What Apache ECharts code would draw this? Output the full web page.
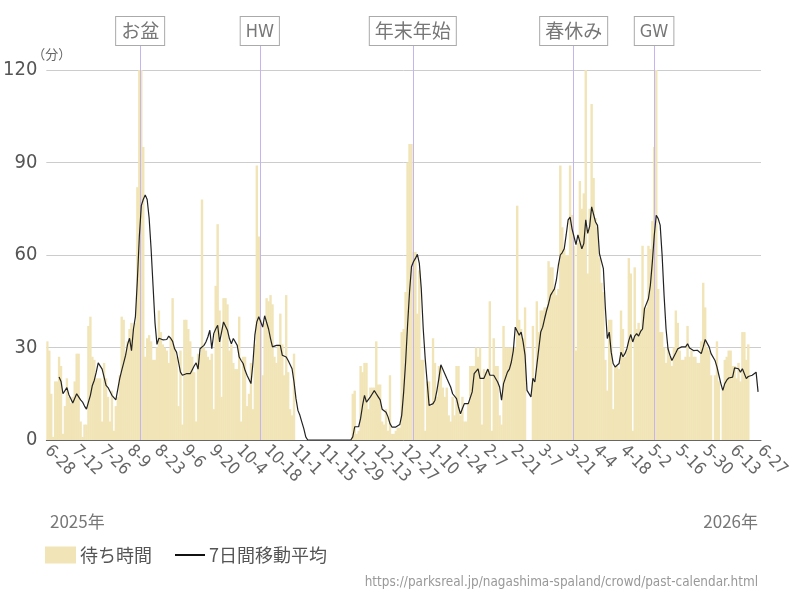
<!DOCTYPE html>
<html style='height: 100%'>
<head>
    <meta charset='utf-8'>
    <script src="https://cdn.jsdelivr.net/npm/echarts@6/dist/echarts.min.js"></script>
</head>
<body style='height: 100%; margin: 0; background: #fff'>
<div id='container' style='width: 800px; height: 600px'></div>
<script type="text/javascript">
// 待ち時間（分）: 2025-06-28 から 365日分, null = 休業
var waitTimes = [
    32,29,15,1,19,19,27,24,2,11,
    20,14,12,14,19,28,28,6,1,5,
    5,37,40,27,26,20,20,20,6,25,
    20,14,6,16,3,11,14,21,40,39,
    28,32,36,38,36,38,82,120,120,95,
    27,33,34,32,26,26,30,42,35,31,
    30,29,25,33,46,30,27,11,29,5,
    39,39,36,32,27,22,6,28,28,78,
    30,29,27,26,28,10,50,70,42,14,
    46,46,44,29,31,25,23,23,40,6,
    27,27,11,15,25,10,31,89,66,39,
    21,38,46,45,47,44,27,25,31,41,
    31,21,47,22,10,8,28,null,null,null,
    null,null,null,null,null,null,null,null,null,null,
    null,null,null,null,null,null,null,null,null,null,
    null,null,null,null,null,null,15,16,2,3,
    24,22,25,25,10,17,17,17,32,18,
    18,6,5,10,3,21,2,2,3,4,
    4,35,36,48,90,96,96,61,61,41,
    55,26,26,3,19,19,11,33,25,14,
    24,24,17,14,17,8,6,14,8,24,
    24,8,14,6,6,12,24,24,24,30,
    27,30,5,23,22,23,45,3,33,24,
    24,8,5,37,30,30,30,30,30,30,
    76,39,36,33,43,0,0,0,37,19,
    45,35,42,42,43,43,58,56,56,49,
    47,49,89,69,62,60,60,89,73,63,
    29,64,84,75,80,120,54,75,109,85,
    72,69,59,51,48,26,16,39,39,10,
    24,24,23,42,36,27,29,59,54,3,
    56,36,38,36,63,43,43,63,62,71,
    95,120,49,35,35,30,25,30,27,24,
    30,42,38,29,26,26,27,37,27,29,
    27,27,25,25,32,51,43,30,29,21,
    0,21,32,19,0,17,26,27,29,29,
    24,24,20,25,19,35,35,26,31,null,
    null,null,null,null,null
];

// 7日間移動平均
var movingAvg = [
    null,null,null,null,null,null,20.4,19,15,14.5,
    17,14.7,13.4,12,11.5,15,14,13,12.3,11,
    10,12.3,14.5,17.7,19.4,22,25,25,23,20.4,
    17.7,17,16.5,14.5,14.5,13,13,20,22.6,25,
    27.5,31,33,29,36,40,52,66,76,78,
    79.5,78,72,62,50,38,31,33,33,32.5,
    32.6,32.6,33.7,33,32,29.6,28.5,25.3,22,21,
    20.4,21.5,21,21.5,22,24,25,23,29.6,29,
    30.7,31.8,33.4,35.6,29.6,34.5,36,37.2,31.8,35,
    38.3,38.8,35.6,32.9,31.2,32.9,32.9,30.7,26.9,25.8,
    24.8,22.6,21,20.4,18.3,24.8,34,38.3,40,40,
    36.6,40.3,40.3,36,32.9,30.2,30.2,30.7,30.2,30.7,
    27.5,26.9,26.9,25.8,25.8,23.1,18.8,13.4,9.6,8,
    5.8,3.7,1,0,0,0,0,0,0,0,
    0,0,0,0,0,0,0,0,0,0,
    0,0,0,0,0,0,1,4.3,4.3,4.3,
    7,11.2,14.5,12.3,12.3,14,15,16,15,14,
    13,10,10,9,7.5,5.3,4.2,4.2,4.2,4,
    5,8,15.6,25.3,37.3,48.1,56.2,57.8,58.9,60.2,
    57.3,49,36,26.4,18.8,11.2,11.8,11.8,12.9,16.1,
    20,24.4,24.2,21.5,20,19.4,17.2,15,14.5,13.4,
    10.7,8.5,10.2,11.8,12.3,11.8,12.3,15.6,21.5,22,
    23.1,20,20,20,20,23,21,20.6,21,20.4,
    18.8,17.2,12.9,18.3,17.7,22,23,25.3,29,36.6,
    37.2,34,35,31.8,27.5,16.1,15.6,14,20,18.8,
    24.2,29.6,35,36.6,39.4,42,44.2,46.9,48,49,
    51.9,56.6,60,60.8,62,66.5,71.4,72.3,68.5,68.5,
    63.4,66.5,67,62,63.7,71.4,67,69.3,75.6,76,
    70.7,69.6,60.4,60,55.6,43,32.9,35,28.5,24.8,
    23.7,23.1,24.8,28.5,27,28,29.6,32.3,34.2,31.8,
    33.7,34.5,33.7,35.2,36,42.6,42,45.8,50.2,57.7,
    66.4,72.9,71.8,69.7,59.9,46.9,36.1,29.6,27.5,25.8,
    26.4,28.3,29.6,29.8,30.2,30.5,30.2,31.2,29.8,29.6,
    29,28.8,29.1,28.5,28,30.2,32.6,32.6,30.2,28,
    27.5,25.8,23.7,21,18.3,16.1,18.3,19.4,20.1,19.9,
    20.4,23.4,24,23.1,22,23.1,22.6,19.9,20.6,20.4,
    21,21.5,22,15.6,null
];

var holidayNames = ['お盆', 'HW', '年末年始', '春休み', 'GW'];
var holidayDates = ['2025-08-15', '2025-10-15', '2026-01-01', '2026-03-24', '2026-05-04'];
var yTicks = [0, 30, 60, 90, 120];

// 日付カテゴリ
var dates = [];
var d0 = new Date(2025, 5, 28);
for (var i = 0; i < waitTimes.length; i++) {
    var d = new Date(d0.getFullYear(), d0.getMonth(), d0.getDate() + i);
    var mm = ('0' + (d.getMonth() + 1)).slice(-2);
    var dd = ('0' + d.getDate()).slice(-2);
    dates.push(d.getFullYear() + '-' + mm + '-' + dd);
}

var numFont = "'Liberation Sans Narrow', 'DejaVu Sans Condensed', Roboto, sans-serif";
var jpFont = "'Noto Sans CJK JP', sans-serif";

var markData = [];
for (var i = 0; i < holidayDates.length; i++) {
    var ascii = /^[A-Z]+$/.test(holidayNames[i]);
    markData.push({
        name: holidayNames[i],
        xAxis: holidayDates[i],
        label: {
            fontFamily: ascii ? numFont : jpFont,
            fontSize: ascii ? 18 : 19,
            padding: ascii ? [4, 5, 2, 5] : [3, 5, 3, 5]
        }
    });
}

var dom = document.getElementById("container");
var myChart = echarts.init(dom);
var option = {
    animation: false,
    backgroundColor: '#fff',
    title: [
        {text: '2025年', left: 45, top: 508, textStyle: {fontSize: 17, fontWeight: 'normal', color: '#777', fontFamily: jpFont}},
        {text: '2026年', right: 37, top: 508, textStyle: {fontSize: 17, fontWeight: 'normal', color: '#777', fontFamily: jpFont}},
        {text: 'https://parksreal.jp/nagashima-spaland/crowd/past-calendar.html', right: 37, top: 571,
            textStyle: {fontSize: 13.4, fontWeight: 'normal', color: '#999', fontFamily: numFont}}
    ],
    legend: [
        {
            left: 45,
            top: 546,
            padding: 0,
            itemWidth: 31,
            itemHeight: 17,
            data: [{name: '待ち時間', icon: 'rect'}],
            textStyle: {fontSize: 18, color: '#555', fontFamily: jpFont, padding: [0, 0, 0, -1]}
        },
        {
            left: 175,
            top: 546,
            padding: 0,
            itemWidth: 30,
            itemHeight: 2,
            data: [{name: '7日間移動平均', icon: 'rect'}],
            textStyle: {fontSize: 18, color: '#555', fontFamily: jpFont, padding: [0, 0, 0, -1]}
        }
    ],
    grid: [
        {left: 45, right: 39, top: 70, bottom: 160},
        {left: 45, right: 39, top: 45, bottom: 160}
    ],
    xAxis: [
        {
            type: 'category',
            data: dates,
            axisLine: {lineStyle: {color: '#666', width: 1}},
            axisTick: {show: false},
            axisLabel: {
                interval: 13,
                rotate: -45,
                margin: 8,
                fontSize: 17,
                color: '#666',
                fontFamily: numFont,
                formatter: function (v) {
                    var p = v.split('-');
                    return parseInt(p[1], 10) + '-' + parseInt(p[2], 10);
                }
            }
        },
        {type: 'category', gridIndex: 1, data: dates, show: false}
    ],
    yAxis: [
        {
            type: 'value',
            min: yTicks[0],
            max: yTicks[yTicks.length - 1],
            interval: 30,
            name: '（分）',
            nameLocation: 'end',
            nameGap: 5,
            nameTextStyle: {fontSize: 13, color: '#666', fontFamily: jpFont, align: 'left', padding: [0, 0, 0, -14]},
            axisLine: {show: false},
            axisTick: {show: false},
            axisLabel: {fontSize: 20, color: '#555', margin: 9, fontFamily: numFont},
            splitLine: {lineStyle: {color: '#ccc', width: 1}}
        },
        {type: 'value', gridIndex: 1, min: 0, max: 1, show: false}
    ],
    series: [
        {
            name: '待ち時間',
            type: 'bar',
            data: waitTimes,
            barWidth: 2.4,
            itemStyle: {color: '#f1e4b6'},
            emphasis: {disabled: true}
        },
        {
            name: 'holidays',
            type: 'line',
            xAxisIndex: 1,
            yAxisIndex: 1,
            data: [],
            markLine: {
                silent: true,
                symbol: ['none', 'none'],
                animation: false,
                lineStyle: {color: '#c4b4f0', width: 1, type: 'solid'},
                label: {
                    show: true,
                    position: 'end',
                    distance: 0,
                    formatter: '{b}',
                    color: '#777',
                    backgroundColor: '#fff',
                    borderColor: '#aaa',
                    borderWidth: 1,
                    lineHeight: 22
                },
                data: markData
            }
        },
        {
            name: '7日間移動平均',
            type: 'line',
            data: movingAvg,
            symbol: 'none',
            connectNulls: false,
            lineStyle: {color: '#222', width: 1.2},
            itemStyle: {color: '#111'},
            z: 5
        }
    ]
};
if (option && typeof option === "object") {
    myChart.setOption(option, true);
}
</script>
</body>
</html>
